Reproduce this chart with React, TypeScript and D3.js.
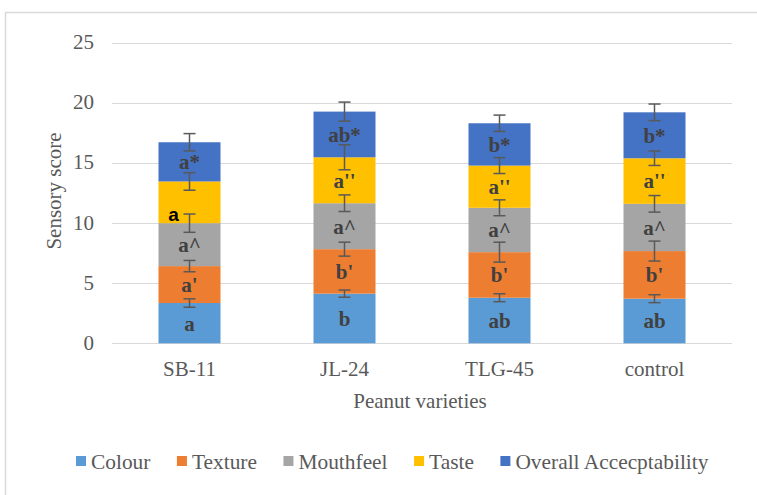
import React, { useEffect, useRef } from "react";
import * as d3 from "d3";

const W = 757;
const H = 495;

// Peanut varieties on the x axis
const categories = ["SB-11", "JL-24", "TLG-45", "control"];

// Sensory attributes (stack order, bottom to top)
const seriesNames = ["Colour", "Texture", "Mouthfeel", "Taste", "Overall Accecptability"];

// Mean scores per attribute, one per variety
const colourScores = [3.35, 4.13, 3.79, 3.71];
const textureScores = [3.07, 3.7, 3.79, 3.96];
const mouthfeelScores = [3.57, 3.82, 3.69, 3.93];
const tasteScores = [3.47, 3.82, 3.51, 3.79];
const overallScores = [3.26, 3.8, 3.52, 3.82];

// Standard deviations (error bars)
const colourErr = [0.35, 0.3, 0.33, 0.33];
const textureErr = [0.47, 0.58, 0.83, 0.83];
const mouthfeelErr = [0.76, 0.69, 0.66, 0.69];
const tasteErr = [0.73, 1.04, 0.66, 0.6];
const overallErr = [0.72, 0.79, 0.68, 0.69];

// Significance letters
const colourLetters = ["a", "b", "ab", "ab"];
const textureLetters = ["a'", "b'", "b'", "b'"];
const mouthfeelLetters = ["a^", "a^", "a^", "a^"];
const tasteLetters = ["a", "a''", "a''", "a''"];
const overallLetters = ["a*", "ab*", "b*", "b*"];

// Y axis ticks
const yTicks = [0, 5, 10, 15, 20, 25];

const seriesColors = ["#5B9BD5", "#ED7D31", "#A5A5A5", "#FFC000", "#4472C4"];

const SERIF = "'Liberation Serif', 'Times New Roman', serif";
const SANS = "'Liberation Sans', Arial, sans-serif";

export default function App() {
  const ref = useRef<SVGSVGElement | null>(null);

  useEffect(() => {
    const svg = d3.select(ref.current as SVGSVGElement);
    svg.selectAll("*").remove();

    const valuesBySeries = [colourScores, textureScores, mouthfeelScores, tasteScores, overallScores];
    const errBySeries = [colourErr, textureErr, mouthfeelErr, tasteErr, overallErr];
    const lettersBySeries = [colourLetters, textureLetters, mouthfeelLetters, tasteLetters, overallLetters];

    const rows = categories.map((c, i) => {
      const r: Record<string, any> = { cat: c };
      seriesNames.forEach((s, k) => (r[s] = valuesBySeries[k][i]));
      return r;
    });
    const stacked = d3.stack<any>().keys(seriesNames)(rows);

    const x = d3.scaleBand<string>().domain(categories).range([112, 732]).padding(0);
    const y = d3.scaleLinear().domain([0, 25]).range([343.3, 42.7]);
    const barW = x.bandwidth() * 0.4;
    const cx = (c: string) => (x(c) as number) + x.bandwidth() / 2;

    // chart area border
    svg
      .append("rect")
      .attr("x", 5.5)
      .attr("y", 12.5)
      .attr("width", 800)
      .attr("height", 600)
      .attr("fill", "none")
      .attr("stroke", "#d9d9d9")
      .attr("stroke-width", 1.5);

    // gridlines
    svg
      .append("g")
      .selectAll("line")
      .data(yTicks)
      .join("line")
      .attr("x1", 112)
      .attr("x2", 732)
      .attr("y1", (d) => Math.round(y(d)) + 0.5)
      .attr("y2", (d) => Math.round(y(d)) + 0.5)
      .attr("stroke", "#d9d9d9")
      .attr("stroke-width", 1);

    // tick labels
    svg
      .append("g")
      .selectAll("text")
      .data(yTicks)
      .join("text")
      .attr("x", 94)
      .attr("y", (d) => y(d) + 6.5)
      .attr("text-anchor", "end")
      .attr("font-family", SERIF)
      .attr("font-size", 21)
      .attr("fill", "#595959")
      .text((d) => String(d));

    // stacked bars
    stacked.forEach((layer, k) => {
      svg
        .append("g")
        .selectAll("rect")
        .data(layer)
        .join("rect")
        .attr("x", (d: any) => cx(d.data.cat) - barW / 2)
        .attr("width", barW)
        .attr("y", (d: any) => y(d[1]))
        .attr("height", (d: any) => y(d[0]) - y(d[1]))
        .attr("fill", seriesColors[k]);
    });

    // error bars at each segment top
    stacked.forEach((layer, k) => {
      const g = svg.append("g").attr("stroke", "#595959").attr("stroke-width", 1.5);
      layer.forEach((d: any, i) => {
        const c = cx(d.data.cat);
        const e = errBySeries[k][i];
        const top = y(d[1] + e);
        const bot = y(d[1] - e);
        g.append("line").attr("x1", c).attr("x2", c).attr("y1", top).attr("y2", bot);
        g.append("line").attr("x1", c - 6).attr("x2", c + 6).attr("y1", top).attr("y2", top);
        g.append("line").attr("x1", c - 6).attr("x2", c + 6).attr("y1", bot).attr("y2", bot);
      });
    });

    // significance letters
    stacked.forEach((layer, k) => {
      layer.forEach((d: any, i) => {
        const c = cx(d.data.cat);
        const mid = (y(d[0]) + y(d[1])) / 2;
        const label = lettersBySeries[k][i];
        const plain = seriesNames[k] === "Taste" && categories[i] === "SB-11";
        if (plain) {
          svg
            .append("text")
            .attr("x", c - 16)
            .attr("y", mid + 19)
            .attr("text-anchor", "middle")
            .attr("font-family", SANS)
            .attr("font-weight", "bold")
            .attr("font-size", 19)
            .attr("fill", "#000")
            .text(label);
        } else {
          svg
            .append("text")
            .attr("x", c)
            .attr("y", mid)
            .attr("dy", "0.35em")
            .attr("text-anchor", "middle")
            .attr("font-family", SERIF)
            .attr("font-weight", "bold")
            .attr("font-size", 21)
            .attr("fill", "#404040")
            .text(label);
        }
      });
    });

    // category labels
    svg
      .append("g")
      .selectAll("text")
      .data(categories)
      .join("text")
      .attr("x", (d) => cx(d))
      .attr("y", 376)
      .attr("text-anchor", "middle")
      .attr("font-family", SERIF)
      .attr("font-size", 21)
      .attr("fill", "#595959")
      .text((d) => d);

    // axis titles
    svg
      .append("text")
      .attr("x", 420)
      .attr("y", 408)
      .attr("text-anchor", "middle")
      .attr("font-family", SERIF)
      .attr("font-size", 21)
      .attr("fill", "#595959")
      .text("Peanut varieties");

    svg
      .append("text")
      .attr("transform", "translate(61,191) rotate(-90)")
      .attr("text-anchor", "middle")
      .attr("font-family", SERIF)
      .attr("font-size", 21)
      .attr("fill", "#595959")
      .text("Sensory score");

    // legend
    const lg = svg.append("g");
    let lx = 76;
    seriesNames.forEach((s, k) => {
      lg.append("rect")
        .attr("x", lx)
        .attr("y", 456)
        .attr("width", 10)
        .attr("height", 10)
        .attr("fill", seriesColors[k]);
      const t = lg
        .append("text")
        .attr("x", lx + 15)
        .attr("y", 469)
        .attr("font-family", SERIF)
        .attr("font-size", 21.4)
        .attr("fill", "#595959")
        .text(s);
      const w = (t.node() as SVGTextElement).getComputedTextLength();
      lx += 15 + w + 26.5;
    });
  }, []);

  return (
    <>
      <style>{"body{margin:0}"}</style>
      <svg ref={ref} width={W} height={H} style={{ display: "block", background: "#fff" }} />
    </>
  );
}
